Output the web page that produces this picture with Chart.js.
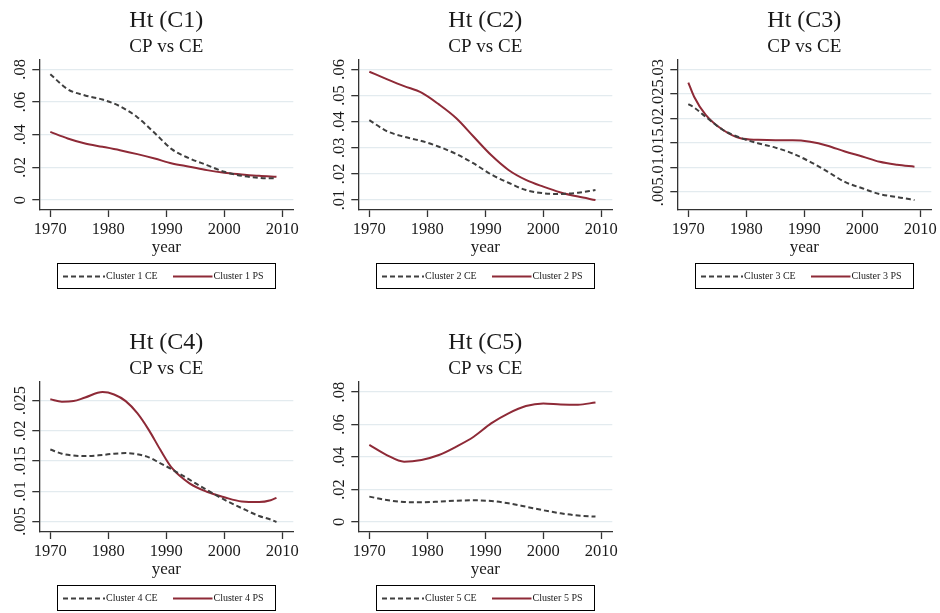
<!DOCTYPE html>
<html>
<head>
<meta charset="utf-8">
<script src="https://cdn.jsdelivr.net/npm/chart.js@4/dist/chart.umd.min.js"></script>
<style>
  html, body { margin: 0; padding: 0; background: #ffffff; width: 940px; height: 613px; overflow: hidden; }
  canvas { position: absolute; }
</style>
</head>
<body>
<canvas id="c1" width="319" height="300" style="left:0px;top:0px"></canvas>
<canvas id="c2" width="319" height="300" style="left:319px;top:0px"></canvas>
<canvas id="c3" width="319" height="300" style="left:638px;top:0px"></canvas>
<canvas id="c4" width="319" height="291" style="left:0px;top:322px"></canvas>
<canvas id="c5" width="319" height="291" style="left:319px;top:322px"></canvas>
<script>
// ---------------- DATA ----------------
const years = [1970, 1973, 1976, 1979, 1982, 1985, 1988, 1991, 1994, 1997, 2000, 2003, 2006, 2009];
const yearsC3 = [1970, 1971, 1973, 1976, 1979, 1982, 1985, 1988, 1991, 1994, 1997, 2000, 2003, 2006, 2009];
const yearsC4 = [1970, 1972, 1974, 1976, 1979, 1981, 1983, 1985, 1987, 1989, 1991, 1994, 1997, 2000, 2003, 2006, 2008, 2009];

const c1CE = [0.0770, 0.0678, 0.0640, 0.0615, 0.0574, 0.0507, 0.0410, 0.0310, 0.0255, 0.0214, 0.0173, 0.0148, 0.0136, 0.0132];
const c1PS = [0.0417, 0.0377, 0.0346, 0.0326, 0.0305, 0.0281, 0.0254, 0.0224, 0.0204, 0.0183, 0.0167, 0.0157, 0.0148, 0.0142];

const c2CE = [0.0406, 0.0364, 0.0342, 0.0326, 0.0304, 0.0276, 0.0240, 0.0198, 0.0166, 0.0138, 0.0126, 0.0123, 0.0128, 0.0138];
const c2PS = [0.0591, 0.0563, 0.0536, 0.0511, 0.0466, 0.0413, 0.0342, 0.0272, 0.0215, 0.0177, 0.0151, 0.0129, 0.0113, 0.0100];

const c3CE = [0.0229, 0.0222, 0.0203, 0.0176, 0.0160, 0.0149, 0.0140, 0.0128, 0.0111, 0.0091, 0.0070, 0.0057, 0.0045, 0.0039, 0.0033];
const c3PS = [0.0273, 0.0244, 0.0207, 0.0176, 0.0159, 0.0156, 0.0155, 0.0155, 0.0152, 0.0144, 0.0132, 0.0122, 0.0111, 0.0105, 0.0101];

const c4CE = [0.0169, 0.0162, 0.0159, 0.0158, 0.0160, 0.0162, 0.0163, 0.0161, 0.0156, 0.0146, 0.0136, 0.0119, 0.0102, 0.0086, 0.0072, 0.0059, 0.0053, 0.0049];
const c4PS = [0.0252, 0.0248, 0.0249, 0.0255, 0.0264, 0.0260, 0.0249, 0.0229, 0.0201, 0.0168, 0.0138, 0.0113, 0.0099, 0.0090, 0.0083, 0.0082, 0.0085, 0.0089];

const c5CE = [0.0156, 0.0135, 0.0123, 0.0121, 0.0125, 0.0131, 0.0133, 0.0129, 0.0115, 0.0094, 0.0072, 0.0053, 0.0039, 0.0033];
const c5PS = [0.0474, 0.0412, 0.0371, 0.0382, 0.0412, 0.0464, 0.0525, 0.0607, 0.0669, 0.0714, 0.0730, 0.0724, 0.0722, 0.0736];

const xTicks = [1970, 1980, 1990, 2000, 2010];
const xTickLabels = ['1970', '1980', '1990', '2000', '2010'];

const c1Ticks = [0, 0.02, 0.04, 0.06, 0.08];
const c1TickLabels = ['0', '.02', '.04', '.06', '.08'];
const c2Ticks = [0.01, 0.02, 0.03, 0.04, 0.05, 0.06];
const c2TickLabels = ['.01', '.02', '.03', '.04', '.05', '.06'];
const c3Ticks = [0.005, 0.01, 0.015, 0.02, 0.025, 0.03];
const c3TickLabels = ['.005', '.01', '.015', '.02', '.025', '.03'];
const c4Ticks = [0.005, 0.01, 0.015, 0.02, 0.025];
const c4TickLabels = ['.005', '.01', '.015', '.02', '.025'];
const c5Ticks = [0, 0.02, 0.04, 0.06, 0.08];
const c5TickLabels = ['0', '.02', '.04', '.06', '.08'];

const titles = ['Ht (C1)', 'Ht (C2)', 'Ht (C3)', 'Ht (C4)', 'Ht (C5)'];
const subtitle = 'CP vs CE';
const xTitle = 'year';
const ceLabels = ['Cluster 1 CE', 'Cluster 2 CE', 'Cluster 3 CE', 'Cluster 4 CE', 'Cluster 5 CE'];
const psLabels = ['Cluster 1 PS', 'Cluster 2 PS', 'Cluster 3 PS', 'Cluster 4 PS', 'Cluster 5 PS'];

// ---------------- STYLE ----------------
const SERIF = '"Liberation Serif", "Times New Roman", serif';
const CE_COLOR = '#3f3f3f';
const PS_COLOR = '#8e2a37';
const AXIS_COLOR = '#333333';
const GRID_COLOR = '#e3ebef';
const TEXT_COLOR = '#1a1a1a';

const decor = {
  id: 'decor',
  afterDraw(chart, args, opts) {
    const ctx = chart.ctx, ca = chart.chartArea;
    const cx = (ca.left + ca.right) / 2;
    ctx.save();
    ctx.fillStyle = TEXT_COLOR;
    ctx.textAlign = 'center';
    ctx.textBaseline = 'alphabetic';
    ctx.font = '24px ' + SERIF;
    ctx.fillText(opts.title, cx, 27);
    ctx.font = '19px ' + SERIF;
    ctx.fillText(opts.subtitle, cx, 52);
    ctx.font = '17px ' + SERIF;
    ctx.fillText(opts.xTitle, cx, ca.bottom + 41.5);

    // rotated y tick labels
    const ys = chart.scales.y;
    ys.ticks.forEach((t, i) => {
      const py = ys.getPixelForValue(t.value);
      ctx.save();
      ctx.translate(ca.left - 14, py);
      ctx.rotate(-Math.PI / 2);
      ctx.textAlign = 'center';
      ctx.textBaseline = 'alphabetic';
      ctx.font = '16.5px ' + SERIF;
      ctx.fillText(opts.yLabels[i], 0, 0);
      ctx.restore();
    });

    // legend box
    const bx = Math.round(ca.left + 18), by = Math.round(ca.bottom + 53);
    const bw = Math.round(ca.right - ca.left - 36), bh = 25;
    ctx.strokeStyle = '#000';
    ctx.lineWidth = 1;
    ctx.setLineDash([]);
    ctx.strokeRect(bx + 0.5, by + 0.5, bw, bh);
    const my = by + bh / 2 + 1;
    chart.data.datasets.forEach((ds, i) => {
      const x0 = bx + (i === 0 ? 6 : 116);
      const x1 = bx + (i === 0 ? 48 : 155.5);
      ctx.strokeStyle = ds.borderColor;
      ctx.lineWidth = ds.borderWidth;
      ctx.setLineDash(ds.borderDash || []);
      ctx.beginPath();
      ctx.moveTo(x0, my);
      ctx.lineTo(x1, my);
      ctx.stroke();
      ctx.setLineDash([]);
      ctx.fillStyle = TEXT_COLOR;
      ctx.font = '10px ' + SERIF;
      ctx.textAlign = 'left';
      ctx.textBaseline = 'middle';
      ctx.fillText(ds.label, x1 + 1, my);
    });
    ctx.restore();
  }
};

function makePanel(id, idx, xs, ce, ps, yMin, yMax, yTicks, yLabels) {
  const canvas = document.getElementById(id);
  const H = canvas.height;
  new Chart(canvas, {
    type: 'line',
    data: {
      datasets: [
        {
          label: ceLabels[idx],
          data: xs.map((x, i) => ({ x: x, y: ce[i] })),
          borderColor: CE_COLOR,
          borderWidth: 2,
          borderDash: [5, 3],
          pointRadius: 0,
          fill: false,
          cubicInterpolationMode: 'monotone'
        },
        {
          label: psLabels[idx],
          data: xs.map((x, i) => ({ x: x, y: ps[i] })),
          borderColor: PS_COLOR,
          borderWidth: 2,
          pointRadius: 0,
          fill: false,
          cubicInterpolationMode: 'monotone'
        }
      ]
    },
    options: {
      responsive: false,
      animation: false,
      devicePixelRatio: 1,
      layout: { padding: { left: 0, top: 60, right: 25.7, bottom: H - 240 } },
      plugins: {
        legend: { display: false },
        title: { display: false },
        tooltip: { enabled: false },
        decor: { title: titles[idx], subtitle: subtitle, xTitle: xTitle, yLabels: yLabels }
      },
      scales: {
        x: {
          type: 'linear',
          min: 1968.1,
          max: 2011.9,
          afterBuildTicks: s => { s.ticks = xTicks.map(v => ({ value: v })); },
          afterFit: s => { s.height = 30; },
          grid: { display: true, drawOnChartArea: false, drawTicks: true, tickLength: 7, tickColor: AXIS_COLOR, tickWidth: 1.3 },
          border: { display: true, color: AXIS_COLOR, width: 1.3 },
          ticks: {
            autoSkip: false, maxRotation: 0, minRotation: 0, padding: 3,
            color: TEXT_COLOR,
            font: { family: SERIF, size: 16.5 },
            callback: (v) => { const k = xTicks.indexOf(v); return k >= 0 ? xTickLabels[k] : ''; }
          }
        },
        y: {
          type: 'linear',
          min: yMin,
          max: yMax,
          afterBuildTicks: s => { s.ticks = yTicks.map(v => ({ value: v })); },
          afterFit: s => { s.width = 39.3; },
          grid: { display: true, drawOnChartArea: true, drawTicks: true, tickLength: 7, color: GRID_COLOR, lineWidth: 1.3, tickColor: AXIS_COLOR, tickWidth: 1.3 },
          border: { display: true, color: AXIS_COLOR, width: 1.3 },
          ticks: { display: false }
        }
      }
    },
    plugins: [decor]
  });
}

makePanel('c1', 0, years, c1CE, c1PS, -0.0061, 0.0857, c1Ticks, c1TickLabels);
makePanel('c2', 1, years, c2CE, c2PS, 0.00617, 0.0636, c2Ticks, c2TickLabels);
makePanel('c3', 2, yearsC3, c3CE, c3PS, 0.00126, 0.0319, c3Ticks, c3TickLabels);
makePanel('c4', 3, yearsC4, c4CE, c4PS, 0.00325, 0.02806, c4Ticks, c4TickLabels);
makePanel('c5', 4, years, c5CE, c5PS, -0.0062, 0.0862, c5Ticks, c5TickLabels);
</script>
</body>
</html>
